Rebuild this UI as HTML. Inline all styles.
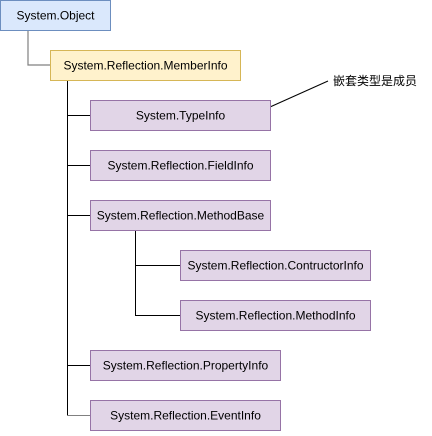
<!DOCTYPE html>
<html><head><meta charset="utf-8"><style>
body{margin:0;background:#fff;}
svg text{font-family:"Liberation Sans","Noto Sans CJK SC",sans-serif;font-size:12px;fill:#000;text-anchor:middle;dominant-baseline:central;}
</style></head><body>
<svg width="432" height="431" viewBox="0 0 432 431" xmlns="http://www.w3.org/2000/svg">
<g fill="none" stroke-width="1">
<path d="M28 30V65H50" stroke="#808080" stroke-width="1.2"/>
<path d="M67.5 80V415.5" stroke="#000"/>
<path d="M67.5 115.5H90M67.5 165.5H90M67.5 215.5H90M67.5 365.5H90" stroke="#000"/>
<path d="M67.5 415.5H90" stroke="#808080"/>
<path d="M135.5 230V315.5H180M135.5 265.5H180" stroke="#000"/>
<path d="M270 107L328 81" stroke="#000"/>
</g>
<rect x="0.5" y="0.5" width="110" height="30" fill="#dae8fc" stroke="#6c8ebf"/>
<text x="55.5" y="15.5">System.Object</text>
<rect x="50.5" y="50.5" width="190" height="30" fill="#fff2cc" stroke="#d6b656"/>
<text x="145.5" y="65.5">System.Reflection.MemberInfo</text>
<g fill="#e1d5e7" stroke="#9673a6">
<rect x="90.5" y="100.5" width="180" height="30"/>
<rect x="90.5" y="150.5" width="180" height="30"/>
<rect x="90.5" y="200.5" width="180" height="30"/>
<rect x="180.5" y="250.5" width="190" height="30"/>
<rect x="180.5" y="300.5" width="190" height="30"/>
<rect x="90.5" y="350.5" width="190" height="30"/>
<rect x="90.5" y="400.5" width="190" height="30"/>
</g>
<text x="180.5" y="115.5">System.TypeInfo</text>
<text x="180.5" y="165.5">System.Reflection.FieldInfo</text>
<text x="180.5" y="215.5">System.Reflection.MethodBase</text>
<text x="275.5" y="265.5">System.Reflection.ContructorInfo</text>
<text x="275.5" y="315.5">System.Reflection.MethodInfo</text>
<text x="185.5" y="365.5">System.Reflection.PropertyInfo</text>
<text x="185.5" y="415.5">System.Reflection.EventInfo</text>
<text x="375" y="81">嵌套类型是成员</text>
</svg>
</body></html>
